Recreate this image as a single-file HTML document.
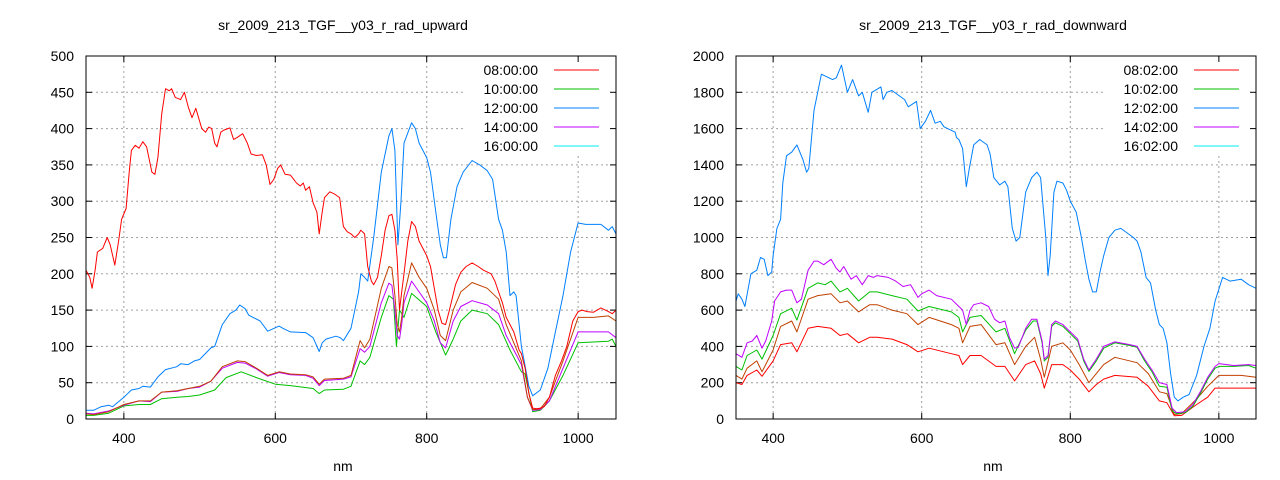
<!DOCTYPE html>
<html><head><meta charset="utf-8"><style>
html,body{margin:0;padding:0;background:#fff;}
svg{display:block;font-family:"Liberation Sans",sans-serif;}
</style></head><body>
<svg id="s" width="1280" height="480" xmlns="http://www.w3.org/2000/svg"></svg>
<script>
const S=document.getElementById('s');let h='';
function P(a){const r=[];for(let i=0;i<a.length;i+=2)r.push([a[i],a[i+1]]);return r;}
function plot(o){
 const {x0,x1,y0,y1,ymax,ystep,title,labels,cx}=o;
 const X=v=>x0+(v-350)/700*(x1-x0), Y=v=>y1-v/ymax*(y1-y0);
 // grid
 for(let v=ystep;v<ymax;v+=ystep){const y=Y(v);h+=`<line x1="${x0}" x2="${x1}" y1="${y}" y2="${y}" stroke="#a0a0a0" stroke-dasharray="2,3" stroke-width="1"/>`;}
 for(const v of [400,600,800,1000]){const x=X(v);h+=`<line x1="${x}" x2="${x}" y1="${y0}" y2="${y1}" stroke="#a0a0a0" stroke-dasharray="2,3"/>`;}
 // legend bg
 h+=`<rect x="${x1-150}" y="${y0+1}" width="148" height="98" fill="#fff"/>`;
 // ticks & labels
 for(let v=0;v<=ymax;v+=ystep){const y=Y(v);h+=`<line x1="${x0}" x2="${x0+6}" y1="${y}" y2="${y}" stroke="#000"/><line x1="${x1}" x2="${x1-6}" y1="${y}" y2="${y}" stroke="#000"/><text x="${x0-12}" y="${y+5}" font-size="14" text-anchor="end">${v}</text>`;}
 for(const v of [400,600,800,1000]){const x=X(v);h+=`<line x1="${x}" x2="${x}" y1="${y1}" y2="${y1-6}" stroke="#000"/><line x1="${x}" x2="${x}" y1="${y0}" y2="${y0+6}" stroke="#000"/><text x="${x}" y="${y1+24}" font-size="14" text-anchor="middle">${v}</text>`;}
 h+=`<text x="${cx}" y="30" font-size="14" text-anchor="middle">${title}</text><text x="${cx}" y="471" font-size="14" text-anchor="middle">nm</text>`;
 const cols=['#ff0000','#00c000','#0080ff','#c000ff','#00eeee'];
 labels.forEach((l,i)=>{const y=y0+14+i*19;h+=`<text x="${x1-78}" y="${y+5}" font-size="14" text-anchor="end">${l}</text><line x1="${x1-62}" x2="${x1-17}" y1="${y}" y2="${y}" stroke="${cols[i]}"/>`;});
 for(const [c,d] of o.series){h+=`<polyline fill="none" stroke="${c}" stroke-width="1" stroke-linejoin="round" points="${P(d).map(p=>X(p[0]).toFixed(1)+','+Y(p[1]).toFixed(1)).join(' ')}"/>`;}
 h+=`<rect x="${x0}" y="${y0}" width="${x1-x0}" height="${y1-y0}" fill="none" stroke="#000"/>`;
}
const L={red:[350,205,355,195,358,180,362,205,365,230,372,235,378,250,382,240,388,212,393,245,397,275,403,290,407,340,410,370,415,377,420,373,425,382,430,375,437,340,441,337,445,360,450,420,455,455,460,452,463,455,468,443,475,440,480,450,485,430,490,415,495,428,503,400,508,395,512,402,516,400,520,380,523,375,528,395,532,398,540,401,545,385,550,388,557,393,563,380,568,365,575,363,583,364,588,350,593,323,598,330,603,345,607,350,613,337,620,336,628,325,633,321,637,325,640,315,645,320,650,298,655,285,658,255,662,285,665,305,672,313,678,310,685,305,690,265,695,258,700,255,705,250,710,255,713,260,718,255,722,210,727,190,730,185,735,195,740,225,745,260,750,280,754,282,758,260,761,220,764,150,767,175,770,200,775,245,780,272,785,265,790,245,795,235,800,225,805,210,810,180,815,150,820,132,825,130,830,150,838,185,845,202,852,210,860,215,868,210,875,205,885,200,890,190,895,175,900,160,905,140,910,130,915,120,922,95,925,90,930,70,935,35,940,15,945,14,950,15,955,17,962,30,970,60,978,80,985,100,993,135,1000,148,1005,150,1012,148,1020,147,1030,153,1040,148,1045,145,1050,150],
brown:[350,7,360,6,380,10,400,20,420,25,435,25,450,37,470,39,485,42,500,45,515,52,530,72,550,80,560,79,575,70,590,60,605,65,620,62,640,61,650,58,658,48,665,55,690,56,700,60,712,108,718,98,725,110,740,180,750,210,754,208,758,170,761,130,764,120,767,140,770,170,780,215,790,195,800,180,810,150,818,115,825,108,835,150,845,175,860,188,880,180,895,165,905,130,915,105,925,80,933,30,940,13,950,14,962,30,980,80,1000,140,1020,140,1040,142,1050,135],
purple:[350,8,360,7,380,11,400,19,420,25,435,24,450,37,470,38,485,42,500,44,515,52,530,70,550,78,560,77,575,69,590,59,605,64,620,61,640,60,650,56,658,46,665,53,690,55,700,58,712,97,718,92,725,100,740,160,750,187,754,184,758,150,761,115,764,110,767,130,770,160,780,190,790,175,800,160,810,135,818,105,825,98,835,135,845,155,860,163,880,157,895,145,905,115,915,95,925,75,933,30,940,12,950,13,962,25,980,70,1000,120,1020,120,1040,120,1050,112],
green:[350,5,360,5,380,8,400,18,420,20,435,20,450,28,470,30,485,31,500,33,520,40,535,57,555,65,575,57,600,48,620,46,650,42,658,35,665,40,690,41,700,45,712,80,718,75,725,85,740,140,750,170,756,165,760,100,764,150,770,140,780,173,800,155,812,120,825,88,835,110,845,135,860,150,880,145,895,130,910,95,925,65,930,62,940,10,950,12,962,25,980,60,1000,105,1020,106,1040,107,1045,110,1050,100],
blue:[350,12,360,12,370,17,380,19,385,17,400,30,410,40,420,42,425,45,435,44,445,58,455,68,470,72,475,76,485,75,493,80,500,82,515,98,520,100,530,130,540,145,548,150,553,157,560,152,565,143,580,135,590,121,605,128,610,125,620,120,640,119,650,112,658,93,662,105,667,110,680,114,686,112,690,108,700,125,710,175,713,200,718,195,722,190,730,250,740,340,750,390,754,400,758,370,762,240,766,300,770,380,780,408,785,400,790,380,800,360,805,340,812,285,818,240,822,222,826,222,832,275,840,320,848,340,860,356,870,350,880,342,887,330,895,275,900,260,905,230,910,170,915,175,918,170,925,100,935,45,940,32,950,40,960,70,970,120,980,170,990,230,1000,270,1010,268,1030,268,1040,260,1045,265,1050,255]};
plot({x0:86,x1:616,y0:56,y1:419,ymax:500,ystep:50,cx:343,title:'sr_2009_213_TGF__y03_r_rad_upward',labels:['08:00:00','10:00:00','12:00:00','14:00:00','16:00:00'],
 series:[['#0080ff',L.blue],['#00c000',L.green],['#c000ff',L.purple],['#c04000',L.brown],['#ff0000',L.red]]});
const R={blue:[350,650,353,690,358,660,362,620,370,800,378,820,383,890,388,880,393,790,398,810,400,900,405,1050,410,1100,413,1300,418,1450,425,1470,432,1510,440,1430,445,1360,448,1380,455,1700,460,1800,465,1900,475,1880,480,1870,485,1880,492,1950,500,1800,507,1870,515,1780,520,1800,528,1690,533,1800,545,1830,548,1760,553,1800,560,1810,570,1780,577,1760,582,1720,593,1750,598,1600,605,1640,612,1700,618,1630,625,1640,630,1610,645,1580,647,1550,650,1540,655,1490,660,1280,664,1380,670,1510,678,1540,688,1510,692,1460,697,1330,705,1290,712,1310,716,1280,722,1050,727,980,732,1000,740,1250,748,1330,755,1360,760,1330,767,1000,770,790,773,900,778,1250,782,1310,790,1300,795,1260,800,1200,808,1140,815,1000,820,880,825,770,830,700,835,700,840,810,845,900,852,1000,860,1040,868,1050,875,1030,885,1000,890,980,895,920,902,780,908,750,915,600,920,520,925,500,930,420,935,250,940,120,945,100,952,120,960,135,970,240,980,400,988,500,995,650,1005,780,1015,760,1030,770,1040,740,1050,720],
purple:[350,360,358,340,365,420,372,430,378,460,385,390,390,430,398,540,402,650,410,700,418,710,425,710,432,640,438,660,447,820,455,870,460,870,468,850,478,880,485,830,490,810,495,840,505,770,512,790,520,740,528,790,535,780,540,790,555,780,565,760,575,730,585,740,595,670,600,690,610,710,620,680,640,660,650,620,655,600,660,520,665,600,670,630,680,640,690,620,698,550,705,530,712,540,718,450,725,390,730,395,740,500,748,550,755,550,762,430,765,330,770,350,775,520,780,540,790,520,800,480,810,440,818,330,825,270,835,330,845,400,860,425,880,410,890,400,900,330,910,270,920,200,925,195,930,190,937,60,943,35,955,40,965,80,975,150,985,230,995,290,1000,305,1020,295,1040,300,1050,295],
green:[350,290,358,270,365,350,378,380,385,330,400,460,410,580,425,610,432,545,447,720,460,750,470,740,478,760,490,700,500,720,515,650,530,700,540,700,560,680,580,660,595,595,610,620,640,590,650,560,655,480,665,560,680,570,700,480,712,500,725,360,740,490,750,540,755,540,762,420,765,320,770,340,775,510,780,530,790,510,800,470,810,430,818,320,825,262,835,320,845,390,860,420,880,405,890,395,900,320,910,260,920,180,930,175,937,45,943,30,955,35,965,70,975,140,985,220,995,280,1000,290,1020,290,1040,295,1050,280],
brown:[350,240,358,220,365,280,378,320,385,260,400,380,410,510,425,540,432,480,447,660,460,680,478,690,490,640,500,650,515,590,530,630,540,630,560,600,580,580,595,520,610,560,640,520,650,500,655,420,665,510,680,520,700,410,712,420,725,300,740,400,752,450,760,330,765,230,775,400,790,420,800,380,812,300,825,200,835,250,845,300,860,340,890,310,905,250,920,150,930,140,940,25,950,30,970,110,985,180,1000,240,1030,240,1050,230],
red:[350,200,358,190,365,240,378,270,385,235,400,320,410,410,425,420,432,370,447,500,460,510,478,500,490,460,500,470,515,420,530,450,540,450,560,440,580,410,595,370,610,390,640,360,650,350,655,300,665,350,680,350,700,290,712,290,725,210,740,300,752,320,760,250,765,170,775,300,790,300,800,270,812,220,825,150,835,190,845,220,860,240,890,230,905,180,920,100,930,90,940,18,950,20,970,80,985,120,995,170,1050,170]};
plot({x0:736,x1:1256,y0:56,y1:419,ymax:2000,ystep:200,cx:993,title:'sr_2009_213_TGF__y03_r_rad_downward',labels:['08:02:00','10:02:00','12:02:00','14:02:00','16:02:00'],
 series:[['#0080ff',R.blue],['#c04000',R.brown],['#ff0000',R.red],['#00c000',R.green],['#c000ff',R.purple]]});
S.innerHTML=h;
</script>
</body></html>
